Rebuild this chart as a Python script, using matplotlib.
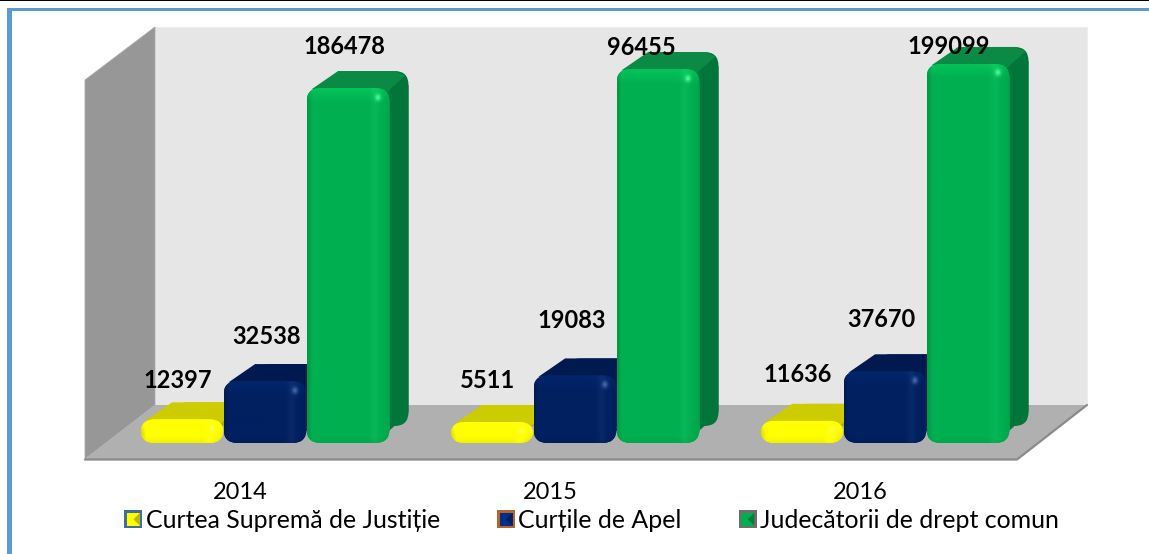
import numpy as np
import matplotlib
matplotlib.use("Agg")
import matplotlib.pyplot as plt
from matplotlib.patches import FancyBboxPatch, Polygon, Rectangle, Patch
from matplotlib.transforms import Affine2D
from matplotlib.legend_handler import HandlerBase

years = ["2014", "2015", "2016"]
series_names = ["Curtea Supremă de Justiție", "Curțile de Apel", "Judecătorii de drept comun"]
# heights as drawn in the picture
supreme_heights = [12397, 11000, 11636]
appeal_heights = [32538, 35500, 37670]
district_heights = [186478, 196455, 199099]
# labels as printed in the picture
supreme_labels = ["12397", "5511", "11636"]
appeal_labels = ["32538", "19083", "37670"]
district_labels = ["186478", "96455", "199099"]

W, H = 1149, 554
X0, DX = 265.0, 310.0      # px of group 0, px per group
Y0, SY = 443.0, 355.0 / 186478
BAR_PX, DEPTH_X, DEPTH_Y, ROUND = 83.0, 19.0, 17.0, 14.0

FONT = "Lato"
plt.rcParams["font.family"] = [FONT, "DejaVu Sans"]

fig = plt.figure(figsize=(W / 100, H / 100), dpi=100, facecolor="white")
ax = fig.add_axes([0, 0, 1, 1], facecolor="none")
xlim = (-X0 / DX, (W - X0) / DX)
ylim = (-(H - Y0) / SY, Y0 / SY)
pix = Affine2D().scale(1 / W, -1 / H).translate(0, 1) + fig.transFigure

# frame
for rect, col in [((7, 8, 5, H), "#5b9bd5"), ((7, 8, W, 3.2), "#5b9bd5"), ((0, 0, W, 1.2), "#000000")]:
    ax.add_patch(Rectangle(rect[:2], rect[2], rect[3], transform=pix, fc=col, ec="none", zorder=0))

# 3D box: back wall, left wall, floor
ax.add_patch(Polygon([(155, 27), (1087, 27), (1087, 405), (155, 405)], transform=pix, fc="#e6e6e6", ec="#eeeeee", lw=0.6, zorder=1))
ax.add_patch(Polygon([(85, 80), (155, 27), (155, 405), (85, 459)], transform=pix, fc="#979797", ec="#a8a8a8", lw=0.6, zorder=1))
ax.add_patch(Polygon([(155, 405), (1087, 405), (1017, 459), (85, 459)], transform=pix, fc="#b0b0b0", ec="none", zorder=1.1))
ax.plot([85, 1017, 1087], [459.5, 459.5, 405], transform=pix, color="#8b8b8b", lw=1.6, zorder=1.2, solid_capstyle="round")


def shade(h, base, rnd):
    """RGB image of a softly shaded bar front."""
    x = np.linspace(0, 1, 83)
    y = np.linspace(0, 1, max(int(h), 2))
    edge = np.clip(x / 0.06, 0, 1)
    fx = 0.86 + 0.14 * edge - 0.06 * np.clip((x - 0.9) / 0.1, 0, 1)
    band = 0.05 * np.exp(-((x - 0.82) / 0.05) ** 2)
    top = np.clip(1 - y * h / rnd, 0, 1)
    bottom = np.clip(1 - (1 - y) * h / 6, 0, 1)
    yy = y * h
    spec = 0.25 * np.exp(-((x[None, :] - 0.86) / 0.035) ** 2 - ((yy[:, None] - 9.0) / 3.5) ** 2)
    img = np.ones((len(y), len(x), 3))
    for c in range(3):
        v = base[c] * (fx[None, :] - 0.05 * bottom[:, None]) + band[None, :] * 0.6
        img[:, :, c] = np.clip(v + 0.10 * top[:, None] * (base[c] + 0.1) + spec, 0, 1)
    return img


def draw_series(values, front, topc, sidec, offset, z):
    pos = np.arange(len(values)) + offset
    w = BAR_PX / DX
    bars = ax.bar(pos, values, width=w, color=front, zorder=z + 0.2, linewidth=0)
    rgb = np.array(matplotlib.colors.to_rgb(front))
    ddx, ddy, rx = DEPTH_X / DX, DEPTH_Y / SY, ROUND / DX
    ry = ROUND / SY
    for rect in bars:
        x0, x1, y1 = rect.get_x(), rect.get_x() + w, rect.get_height()
        ax.add_patch(FancyBboxPatch((x0 + ddx + rx, ddy), w - rx, y1, boxstyle=f"round,pad=0,rounding_size={rx}",
                                    mutation_aspect=ry / rx, fc=sidec, ec="none", zorder=z))
        ax.add_patch(Polygon([(x1 - rx, 0), (x1 - rx + ddx, ddy), (x1 + ddx, ddy + ry),
                              (x1 + ddx, y1 + ddy - ry), (x1, y1 - ry), (x1, ry)],
                             fc=sidec, ec="none", zorder=z))
        ax.add_patch(Polygon([(x0 + rx * 0.35, y1 - ry * 0.1), (x0 + rx * 0.9 + ddx, y1 + ddy),
                              (x1 - rx + ddx, y1 + ddy), (x1 + ddx - rx * 0.2, y1 + ddy - ry * 0.3),
                              (x1 - rx * 0.2, y1 - ry * 0.3)],
                             fc=topc, ec="none", zorder=z + 0.05))
        clip = FancyBboxPatch((x0, 0), w, y1, boxstyle=f"round,pad=0,rounding_size={rx}",
                              mutation_aspect=ry / rx, fc="none", ec="none", zorder=z + 0.1)
        ax.add_patch(clip)
        rect.set_clip_path(clip)
        im = ax.imshow(shade(y1 * SY, rgb, ROUND), extent=(x0, x1, 0, y1), origin="upper",
                       aspect="auto", zorder=z + 0.3, interpolation="bilinear")
        im.set_clip_path(clip)
    return bars


w_unit = BAR_PX / DX
sets = [
    (supreme_heights, supreme_labels, "#ffff00", "#cccc00", "#b0b000", -w_unit, 2),
    (appeal_heights, appeal_labels, "#002060", "#001a4f", "#001a4f", 0.0, 3),
    (district_heights, district_labels, "#00b050", "#0a8a44", "#00763a", w_unit, 4),
]
label_shift = [
    [(-4, 39), (-4, 42), (-4, 46)],
    [(2, 45), (-3, 55), (-4, 52)],
    [(-4, 41), (-17, 22), (-19, 17)],
]
bar_groups = []
for (vals, labs, f, t, s, off, z), shifts in zip(sets, label_shift):
    bars = draw_series(vals, f, t, s, off, z)
    bar_groups.append(bars)
    for i, (v, lab, sh) in enumerate(zip(vals, labs, shifts)):
        ax.annotate(lab, xy=(i + off, v), xytext=sh, textcoords="offset pixels",
                    ha="center", va="center", fontsize=17, fontweight="bold",
                    color="#000000", zorder=10)

ax.set_xlim(*xlim)
ax.set_ylim(*ylim)
ax.set_yticks([])
ax.set_xticks(np.arange(len(years)) - 25 / DX)
ax.set_xticklabels(years, fontsize=17, color="#000000")
ax.tick_params(axis="x", length=0, pad=-52)
for sp in ax.spines.values():
    sp.set_visible(False)


class Bevel(HandlerBase):
    def create_artists(self, legend, orig, xd, yd, width, height, fontsize, trans):
        s = 13.0
        x, y = -xd + (width - s) / 2, -yd + (height - s) / 2
        t = 0.14 * s
        out = Rectangle((x, y), s, s, fc=orig.get_edgecolor(), ec="none", transform=trans)
        inner = Rectangle((x + t, y + t), s - 2 * t, s - 2 * t, fc=orig.get_facecolor(), ec="none", transform=trans)
        shade_tri = Polygon([(x + s - t, y + t), (x + s - t, y + s - t), (x + s / 2, y + s / 2)],
                            fc=(0, 0, 0, 0.28), ec="none", transform=trans)
        return [out, inner, shade_tri]


handles = [Patch(fc="#ffff00", ec="#3f6d9e"), Patch(fc="#002f86", ec="#b5652b"), Patch(fc="#00b050", ec="#6e6e6e")]
leg = ax.legend(handles, series_names, loc="center", bbox_to_anchor=(591.5 / W, 1 - 520 / H),
                bbox_transform=fig.transFigure, ncol=3, frameon=False, fontsize=17.9,
                handler_map={Patch: Bevel()}, handlelength=0.73, handleheight=1.0,
                handletextpad=0.12, columnspacing=2.3, borderpad=0, borderaxespad=0)

fig.savefig("out.png", dpi=100)
